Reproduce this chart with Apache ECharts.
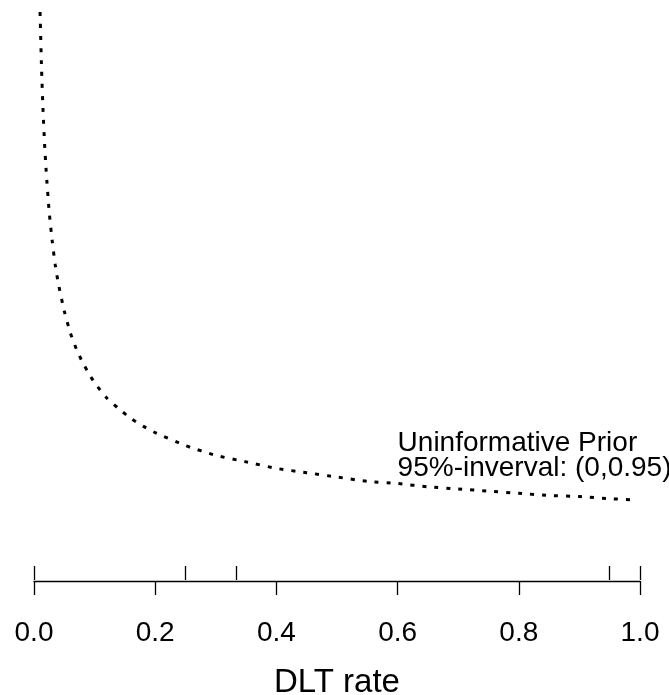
<!DOCTYPE html>
<html>
<head>
<meta charset="utf-8">
<script src="https://cdn.jsdelivr.net/npm/echarts@6/dist/echarts.min.js"></script>
<style>
  html, body { margin: 0; padding: 0; background: #ffffff; }
  #chart { width: 669px; height: 695px; }
</style>
</head>
<body>
<div id="chart"></div>
<script>
// DLT rate (x) and prior density (y) along the curve
const rate = [0.01, 0.0125, 0.015, 0.0175, 0.02, 0.025, 0.03, 0.035, 0.04, 0.05,
              0.06, 0.07, 0.08, 0.09, 0.10, 0.12, 0.14, 0.16, 0.18, 0.20,
              0.25, 0.30, 0.35, 0.40, 0.45, 0.50, 0.55, 0.60, 0.65, 0.70,
              0.75, 0.80, 0.85, 0.90, 0.95, 0.99];
const density = [5.00, 4.47, 4.08, 3.78, 3.54, 3.16, 2.89, 2.67, 2.50, 2.24,
                 2.04, 1.89, 1.77, 1.67, 1.58, 1.44, 1.34, 1.25, 1.18, 1.12,
                 1.00, 0.91, 0.85, 0.79, 0.75, 0.71, 0.67, 0.65, 0.62, 0.60,
                 0.58, 0.56, 0.54, 0.53, 0.51, 0.50];

// Reference rates marked above the axis (labelled ticks run every 0.2 below it)
const refTicks = [0, 0.25, 0.333, 0.95, 1.0];

// Annotation text and where it sits (data coordinates)
const priorText = ['Uninformative Prior', '95%-inverval: (0,0.95)'];
const priorAt = [0.6, 0.91];

const FONT = '"Liberation Sans", Arial, Helvetica, sans-serif';
const LEFT = 34, RIGHT = 29;
const AXIS_Y = 580;

const chart = echarts.init(document.getElementById('chart'), null, { renderer: 'canvas' });

const rateAxis = (gridIndex, extra) => Object.assign({
  type: 'value', min: 0, max: 1, gridIndex,
  splitLine: { show: false }
}, extra);

chart.setOption({
  animation: false,
  backgroundColor: '#ffffff',
  grid: [
    // plotting region for the density curve
    { left: LEFT, right: RIGHT, top: 12, bottom: 141, containLabel: false, outerBoundsMode: 'none' },
    // thin strip carrying the rate axis
    { left: LEFT, right: RIGHT, top: AXIS_Y, height: 1, containLabel: false, outerBoundsMode: 'none' }
  ],
  xAxis: [
    rateAxis(0, { show: false }),
    rateAxis(1, {
      position: 'bottom',
      interval: 0.2,
      name: 'DLT rate',
      nameLocation: 'middle',
      nameGap: 85,
      nameTextStyle: { color: '#000', fontFamily: FONT, fontSize: 33 },
      axisLine: { show: true, lineStyle: { color: '#000', width: 1.3 } },
      axisTick: { show: true, inside: false, length: 14,
                  lineStyle: { color: '#000', width: 1.3 } },
      axisLabel: { show: true, margin: 38, color: '#000',
                   fontFamily: FONT, fontSize: 28,
                   formatter: v => Number(v).toFixed(1) }
    }),
    rateAxis(1, {
      position: 'top',
      axisLine: { show: false },
      axisTick: { show: true, inside: false, length: 14, customValues: refTicks,
                  lineStyle: { color: '#000', width: 1.3 } },
      axisLabel: { show: false }
    })
  ],
  yAxis: [
    { type: 'value', min: 0, max: 5, show: false, gridIndex: 0, splitLine: { show: false } },
    { type: 'value', min: 0, max: 1, show: false, gridIndex: 1, splitLine: { show: false } }
  ],
  series: [
    {
      type: 'line',
      xAxisIndex: 0,
      yAxisIndex: 0,
      data: rate.map((r, i) => [r, density[i]]),
      showSymbol: false,
      symbol: 'none',
      smooth: 0.2,
      clip: false,
      lineStyle: { color: '#000', width: 3, type: [4, 8], cap: 'butt' },
      markPoint: {
        symbol: 'circle',
        symbolSize: 0,
        silent: true,
        data: [{ coord: priorAt }],
        label: {
          show: true,
          position: 'right',
          distance: 0,
          align: 'left',
          verticalAlign: 'middle',
          color: '#000',
          fontFamily: FONT,
          fontSize: 28,
          lineHeight: 25,
          formatter: () => priorText.join('\n')
        }
      }
    }
  ]
});
</script>
</body>
</html>
